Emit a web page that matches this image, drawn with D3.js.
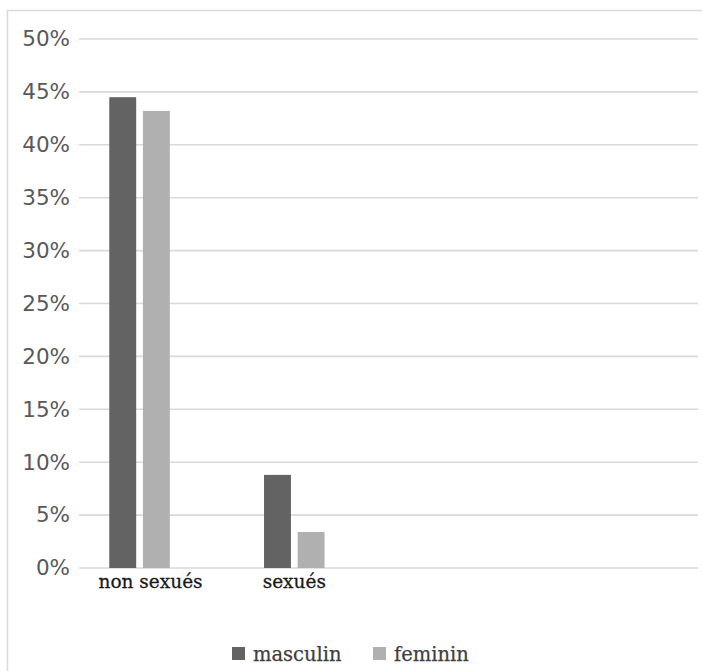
<!DOCTYPE html>
<html>
<head>
<meta charset="utf-8">
<script src="https://cdn.jsdelivr.net/npm/d3@7/dist/d3.min.js"></script>
<style>
  html, body { margin: 0; padding: 0; background: #fff; }
  svg { display: block; }
</style>
</head>
<body>
<svg id="chart" width="702" height="671"></svg>
<script>
// ---- data ----
const categories = ["non sexués", "sexués", "", ""];
const seriesNames = ["masculin", "feminin"];
const masculin = [0.445, 0.088, null, null];
const feminin = [0.432, 0.034, null, null];
const yTicks = [0, 0.05, 0.10, 0.15, 0.20, 0.25, 0.30, 0.35, 0.40, 0.45, 0.50];
const seriesColors = ["#636363", "#b0b0b0"];

// ---- layout ----
const W = 702, H = 671;
const plot = { left: 79, right: 698, top: 39, bottom: 568 };
const svg = d3.select("#chart");

// chart border
svg.append("rect")
  .attr("x", 7.5).attr("y", 10.5)
  .attr("width", W + 10).attr("height", H + 10)
  .attr("fill", "none").attr("stroke", "#d9d9d9").attr("stroke-width", 1.5);

const y = d3.scaleLinear().domain([0, 0.5]).range([plot.bottom, plot.top]);
const x0 = d3.scaleBand().domain(d3.range(categories.length))
  .range([plot.left, plot.right]).padding(0);
const slots = [...seriesNames, "(vide)"];
const x1 = d3.scaleBand().domain(slots).range([0, x0.bandwidth()])
  .paddingInner(0.2).paddingOuter(0.9);

// gridlines
svg.append("g").selectAll("line").data(yTicks).join("line")
  .attr("x1", plot.left).attr("x2", plot.right)
  .attr("y1", d => y(d)).attr("y2", d => y(d))
  .attr("stroke", "#d9d9d9").attr("stroke-width", 1.6);

// y axis labels
const yAxis = d3.axisLeft(y).tickValues(yTicks).tickSize(0).tickPadding(0)
  .tickFormat(d => Math.round(d * 100) + "%");
const yg = svg.append("g").attr("transform", `translate(70,0)`).call(yAxis);
yg.select(".domain").remove();
yg.selectAll("text")
  .attr("font-family", "DejaVu Sans, Verdana, sans-serif")
  .attr("font-size", 21.5)
  .attr("fill", "#595959");

// bars
const seriesData = [masculin, feminin];
seriesNames.forEach((name, si) => {
  svg.append("g").selectAll("rect")
    .data(seriesData[si].map((v, i) => ({ i, v })).filter(d => d.v != null))
    .join("rect")
    .attr("x", d => x0(d.i) + x1(name))
    .attr("width", x1.bandwidth())
    .attr("y", d => y(d.v))
    .attr("height", d => y(0) - y(d.v))
    .attr("fill", seriesColors[si]);
});

// category labels (centered under visible bars)
svg.append("g").selectAll("text")
  .data(categories.map((c, i) => ({ c, i })).filter(d => d.c !== ""))
  .join("text")
  .attr("x", d => x0(d.i) + (x1(seriesNames[0]) + x1(seriesNames[1]) + x1.bandwidth()) / 2 + (d.i === 0 ? 11 : 0))
  .attr("y", 588)
  .attr("text-anchor", "middle")
  .attr("font-family", "DejaVu Serif, serif")
  .attr("font-size", 18.5)
  .attr("fill", "#1a1a1a")
  .attr("stroke", "#1a1a1a").attr("stroke-width", 0.3)
  .text(d => d.c);

// legend
const legendX = [232, 373];
const lg = svg.append("g").selectAll("g").data(seriesNames).join("g")
  .attr("transform", (d, i) => `translate(${legendX[i]},647)`);
lg.append("rect").attr("width", 13).attr("height", 13)
  .attr("fill", (d, i) => seriesColors[i]);
lg.append("text").attr("x", 21).attr("y", 13.5)
  .attr("font-family", "DejaVu Serif, serif")
  .attr("font-size", 19.5)
  .attr("fill", "#404040")
  .attr("stroke", "#404040").attr("stroke-width", 0.25)
  .text(d => d);
</script>
</body>
</html>
